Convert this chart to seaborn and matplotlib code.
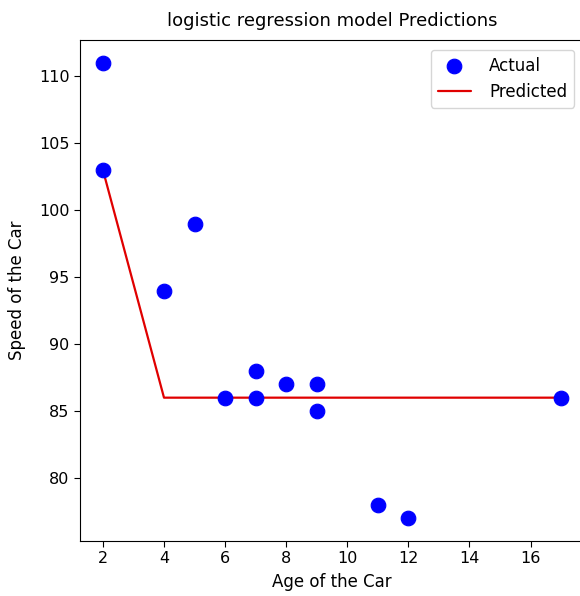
import matplotlib
matplotlib.use("Agg")
import matplotlib.pyplot as plt
import seaborn as sns
import pandas as pd

# Car data
age = [5, 7, 8, 7, 2, 17, 2, 9, 4, 11, 12, 9, 6]
speed = [99, 86, 87, 88, 111, 86, 103, 87, 94, 78, 77, 85, 86]

# Model predictions (sorted by age)
pred_age = [2, 4, 5, 6, 7, 8, 9, 11, 12, 17]
pred_speed = [103, 86, 86, 86, 86, 86, 86, 86, 86, 86]

df = pd.DataFrame({"age": age, "speed": speed})
pred = pd.DataFrame({"age": pred_age, "speed": pred_speed})

sns.set_style("ticks", {"axes.edgecolor": "black", "text.color": "black",
                        "axes.labelcolor": "black", "xtick.color": "black",
                        "ytick.color": "black"})
plt.rcParams["font.family"] = ["DejaVu Sans"]
plt.rcParams["xtick.major.size"] = 4
plt.rcParams["ytick.major.size"] = 4

fig = plt.figure(figsize=(5.8, 5.96), dpi=100)
ax = fig.add_axes([80 / 580, 1 - 541 / 596, 504 / 580, 501 / 596])

sns.scatterplot(data=df, x="age", y="speed", color="blue", s=110,
                edgecolor="blue", label="Actual", ax=ax, zorder=3)
sns.lineplot(data=pred, x="age", y="speed", color="#e00000", linewidth=1.6,
             label="Predicted", ax=ax, estimator=None, sort=False)

ax.set_xlim(1.25, 17.75)
ax.set_ylim(75.3, 112.7)
ax.set_xticks([2, 4, 6, 8, 10, 12, 14, 16])
ax.set_yticks([80, 85, 90, 95, 100, 105, 110])
ax.tick_params(labelsize=11.5)
ax.set_title("logistic regression model Predictions", fontsize=13, pad=10)
ax.set_xlabel("Age of the Car", fontsize=12, labelpad=5)
ax.set_ylabel("Speed of the Car", fontsize=12, labelpad=9)
ax.legend(loc="upper right", fontsize=12, borderaxespad=0.6, bbox_to_anchor=(1.0, 1.0),
          handletextpad=1.1, borderpad=0.4)

fig.savefig("out.png", dpi=100)
